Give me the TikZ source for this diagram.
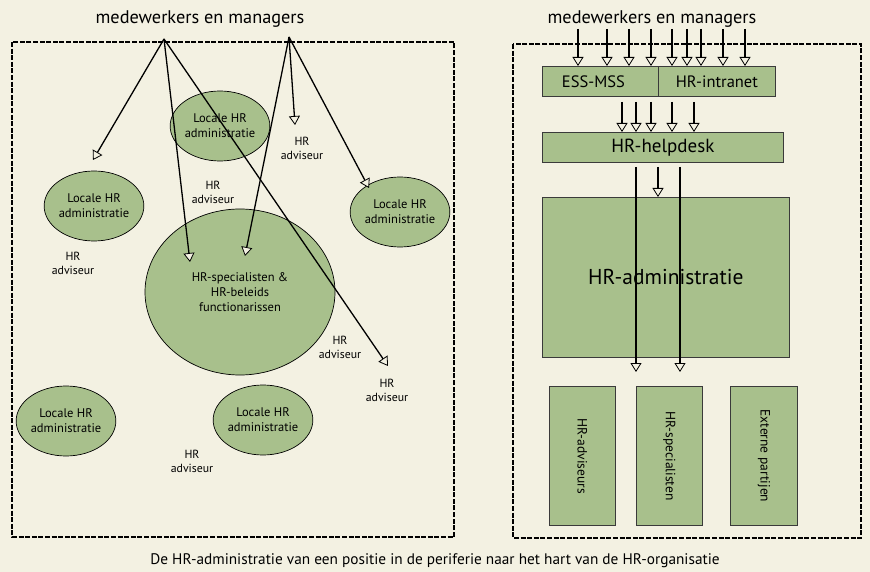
\documentclass[tikz,border=0pt]{standalone}
\usepackage{fontspec}
\setmainfont{PT Sans}
\usetikzlibrary{arrows.meta,shapes.geometric}
\definecolor{paper}{HTML}{F3F1E2}
\definecolor{leaf}{HTML}{A8C08C}
\definecolor{edge}{HTML}{3A3A3A}
\tikzset{
  frame/.style={draw=black, line width=2.2pt, dash pattern=on 5pt off 1.6pt},
  blob/.style={ellipse, draw=black, line width=0.7pt, fill=leaf, inner sep=0pt,
    minimum width=96pt, minimum height=70pt, align=center,
    font=\fontsize{12.5}{15}\selectfont},
  bigblob/.style={blob, minimum width=190pt, minimum height=166pt},
  advisor/.style={align=center, inner sep=0pt, font=\fontsize{11.8}{14}\selectfont},
  block/.style={draw=edge, line width=0.8pt, fill=leaf, inner sep=0pt, anchor=north west},
  tallblock/.style={block},
  sidelabel/.style={rotate=-90, font=\fontsize{13.5}{15}\selectfont},
  flow/.style={line width=1.3pt, -{Triangle[length=9pt, width=11pt, fill=paper, line width=0.8pt]}},
  heading/.style={inner sep=0pt, font=\fontsize{18.3}{20}\selectfont}
}
\begin{document}
\begin{tikzpicture}[x=1pt, y=-1pt]
\fill[paper] (0,0) rectangle (870,572);
\useasboundingbox (0,0) rectangle (870,572);

% ---------- left panel: decentralised HR ----------
\draw[frame] (12,42) rectangle (454,537);
\node[heading] (lt) at (200,19) {medewerkers en managers};

\node[blob] (la1) at (220,126) {Locale HR\\administratie};
\node[blob] (la2) at (94,206) {Locale HR\\administratie};
\node[blob] (la3) at (400,212) {Locale HR\\administratie};
\node[bigblob] (spec) at (240,292) {HR-specialisten \&\\HR-beleids\\functionarissen};
\node[blob] (la4) at (66,421) {Locale HR\\administratie};
\node[blob] (la5) at (263,420) {Locale HR\\administratie};

\node[advisor] (ad1) at (302,148) {HR\\adviseur};
\node[advisor] (ad2) at (213,192) {HR\\adviseur};
\node[advisor] (ad3) at (73,263) {HR\\adviseur};
\node[advisor] (ad4) at (340,347) {HR\\adviseur};
\node[advisor] (ad5) at (387,390) {HR\\adviseur};
\node[advisor] (ad6) at (192,461) {HR\\adviseur};

\coordinate (srcA) at (164,39);
\coordinate (srcB) at (289,37);
\coordinate (tA1) at (93,160);
\coordinate (tA2) at (190,262);
\coordinate (tA3) at (388,366);
\coordinate (tB1) at (245,256);
\coordinate (tB2) at (295,125);
\coordinate (tB3) at (369,188);

\draw[flow] (srcA) -- (tA1);
\draw[flow] (srcA) -- (tA2);
\draw[flow] (srcA) -- (tA3);
\draw[flow] (srcB) -- (tB1);
\draw[flow] (srcB) -- (tB2);
\draw[flow] (srcB) -- (tB3);

% ---------- right panel: central HR ----------
\draw[frame] (513,44) rectangle (861,538);
\node[heading] (rt) at (652,19) {medewerkers en managers};

\node[block, minimum width=116pt, minimum height=30pt] (ess) at (542,66) {};
\node[font=\fontsize{16.5}{18}\selectfont] at ([xshift=-7pt]ess.center) {ESS-MSS};
\node[block, minimum width=117pt, minimum height=30pt,
      font=\fontsize{16.5}{18}\selectfont] (intra) at (658,66) {HR-intranet};
\node[block, minimum width=241pt, minimum height=30pt,
      font=\fontsize{19}{21}\selectfont] (desk) at (542,132) {HR-helpdesk};
\node[block, minimum width=247pt, minimum height=160pt,
      font=\fontsize{21.5}{24}\selectfont] (admin) at (542,197) {HR-administratie};

\node[tallblock, minimum width=66pt, minimum height=139pt] (adv) at (549,386) {};
\node[tallblock, minimum width=66pt, minimum height=139pt] (spc) at (636,386) {};
\node[tallblock, minimum width=67pt, minimum height=139pt] (ext) at (730,386) {};
\node[sidelabel] at (adv.center) {HR-adviseurs};
\node[sidelabel] at (spc.center) {HR-specialisten};
\node[sidelabel] at (ext.center) {Externe partijen};

% users into the self-service layer
\foreach \x [count=\i] in {578,607,629,651,672,687,701,723,745}{
  \coordinate (u\i) at (\x,29);
  \draw[flow] (u\i) -- (u\i |- ess.north);
}
% self-service into the helpdesk
\foreach \x [count=\i] in {622,636,651,672,694}{
  \coordinate (e\i) at (\x,102);
  \draw[flow] (e\i) -- (e\i |- desk.north);
}
% helpdesk onwards
\coordinate (h1) at (636,167);
\coordinate (h2) at (658,167);
\coordinate (h3) at (680,167);
\coordinate (h1e) at (636,372);
\coordinate (h3e) at (680,372);
\draw[flow] (h2) -- (h2 |- admin.north);
\draw[flow] (h1) -- (h1e);
\draw[flow] (h3) -- (h3e);

% ---------- caption ----------
\node[inner sep=0pt, font=\fontsize{15.3}{17}\selectfont] (cap) at (435,561)
  {De HR-administratie van een positie in de periferie naar het hart van de HR-organisatie};
\end{tikzpicture}
\end{document}
